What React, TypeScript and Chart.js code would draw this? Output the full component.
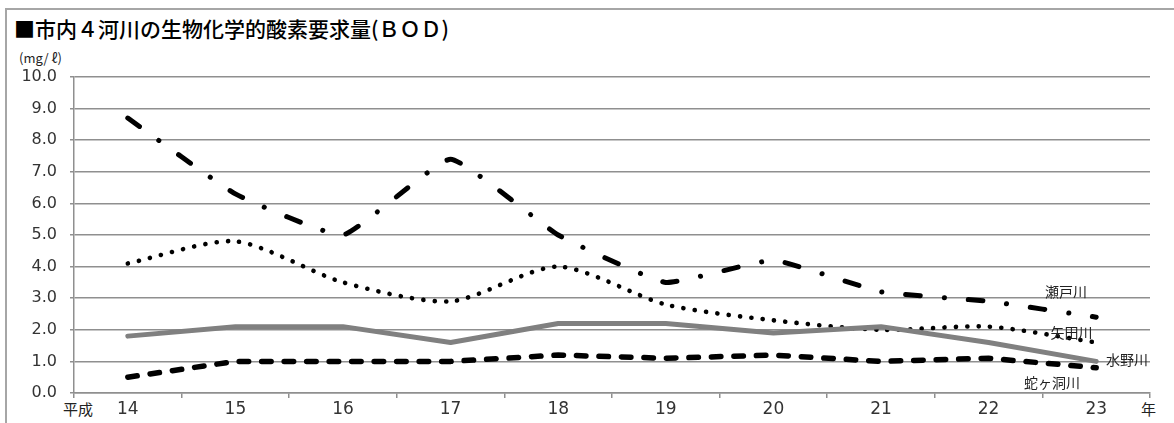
import React, { useEffect, useRef } from "react";
import { Chart, registerables } from "chart.js";

Chart.register(...registerables);

const years = ["14", "15", "16", "17", "18", "19", "20", "21", "22", "23"];
const seto = [8.7, 6.3, 5.0, 7.4, 5.0, 3.5, 4.2, 3.2, 2.9, 2.4];
const yada = [4.1, 4.8, 3.5, 2.9, 4.0, 2.8, 2.3, 2.0, 2.1, 1.6];
const mizuno = [1.8, 2.1, 2.1, 1.6, 2.2, 2.2, 1.9, 2.1, 1.6, 1.0];
const jagabora = [0.5, 1.0, 1.0, 1.0, 1.2, 1.1, 1.2, 1.0, 1.1, 0.8];
const riverNames = ["瀬戸川", "矢田川", "水野川", "蛇ヶ洞川"];
// label anchors: [category index position, value]
const labelIndex = [8.72, 8.77, 9.09, 8.59];
const labelValue = [3.2, 1.9, 1.05, 0.34];
const labelAlign = ["center", "center", "left", "center"];

const TITLE = "■市内４河川の生物化学的酸素要求量(ＢＯＤ)";
const UNIT = "(mg/ ℓ)";
const ERA = "平成";
const YEAR = "年";

const JP = '"Noto Sans CJK JP", "Noto Sans", sans-serif';
const NUM = '"DejaVu Sans", "Noto Sans CJK JP", sans-serif';
const GRID = "#8f8f8f";

const riverLabels = {
  id: "riverLabels",
  afterDatasetsDraw(chart: any) {
    const { ctx, scales } = chart;
    ctx.save();
    ctx.font = `14px ${JP}`;
    ctx.fillStyle = "#222";
    ctx.textBaseline = "middle";
    riverNames.forEach((name, i) => {
      const x0 = scales.x.getPixelForValue(0);
      const x1 = scales.x.getPixelForValue(1);
      const x = x0 + (x1 - x0) * labelIndex[i];
      const y = scales.y.getPixelForValue(labelValue[i]);
      ctx.textAlign = labelAlign[i] as CanvasTextAlign;
      ctx.fillText(name, x, y);
    });
    ctx.restore();
  },
};

export default function App() {
  const ref = useRef<HTMLCanvasElement>(null);

  useEffect(() => {
    if (!ref.current) return;
    const chart = new Chart(ref.current, {
      type: "line",
      data: {
        labels: years,
        datasets: [
          {
            label: riverNames[3],
            data: jagabora,
            borderColor: "#000",
            borderWidth: 5.5,
            borderDash: [9.5, 13],
            borderCapStyle: "round",
            pointRadius: 0,
            tension: 0,
            fill: false,
          },
          {
            label: riverNames[2],
            data: mizuno,
            borderColor: "#808080",
            borderWidth: 5,
            borderCapStyle: "round",
            borderJoinStyle: "round",
            pointRadius: 0,
            tension: 0,
            fill: false,
          },
          {
            label: riverNames[1],
            data: yada,
            borderColor: "#000",
            borderWidth: 4.6,
            borderDash: [0.1, 11.3],
            borderCapStyle: "round",
            pointRadius: 0,
            tension: 0.25,
            fill: false,
          },
          {
            label: riverNames[0],
            data: seto,
            borderColor: "#000",
            borderWidth: 5,
            borderDash: [14.5, 24, 0.1, 24],
            borderCapStyle: "round",
            pointRadius: 0,
            tension: 0.12,
            fill: false,
          },
        ],
      },
      options: {
        animation: false,
        responsive: false,
        maintainAspectRatio: false,
        layout: { padding: { top: 77, right: 24, left: 0, bottom: 0 } },
        plugins: {
          legend: { display: false },
          tooltip: { enabled: false },
        },
        scales: {
          x: {
            type: "category",
            offset: true,
            grid: {
              offset: true,
              drawOnChartArea: false,
              drawTicks: true,
              tickLength: 5,
              color: GRID,
              lineWidth: 1.5,
            },
            border: { display: true, color: GRID, width: 1.5 },
            ticks: {
              color: "#333",
              font: { family: NUM, size: 17 },
              padding: 1,
              maxRotation: 0,
              autoSkip: false,
            },
            afterFit(scale: any) {
              scale.height = 30;
            },
          },
          y: {
            min: 0,
            max: 10,
            grid: {
              color: GRID,
              lineWidth: 1.5,
              tickLength: 4,
              drawTicks: true,
            },
            border: { display: true, color: GRID, width: 1.5 },
            ticks: {
              stepSize: 1,
              color: "#333",
              font: { family: NUM, size: 16 },
              padding: 13,
              callback: (v: any) => Number(v).toFixed(1),
            },
            afterFit(scale: any) {
              scale.width = 74;
            },
          },
        },
      },
      plugins: [riverLabels],
    });
    return () => chart.destroy();
  }, []);

  return (
    <div
      style={{
        position: "absolute",
        left: 0,
        top: 0,
        width: 1174,
        height: 423,
        background: "#fff",
        overflow: "hidden",
      }}
    >
      <div
        style={{
          position: "absolute",
          left: 5,
          top: 8,
          width: 1174,
          height: 423,
          borderTop: "2px solid #a6a6a6",
          borderLeft: "2px solid #a6a6a6",
        }}
      />
      <div
        style={{
          position: "absolute",
          left: 14,
          top: 16,
          font: `500 21px ${JP}`,
          lineHeight: "24px",
          color: "#000",
          whiteSpace: "nowrap",
        }}
      >
        {TITLE}
      </div>
      <div
        style={{
          position: "absolute",
          left: 19,
          top: 50,
          font: `13px ${JP}`,
          lineHeight: "16px",
          color: "#222",
          whiteSpace: "nowrap",
        }}
      >
        {UNIT}
      </div>
      <div
        style={{
          position: "absolute",
          left: 63,
          top: 400,
          font: `15px ${JP}`,
          lineHeight: "18px",
          color: "#222",
        }}
      >
        {ERA}
      </div>
      <div
        style={{
          position: "absolute",
          left: 1141,
          top: 400,
          font: `15px ${JP}`,
          lineHeight: "18px",
          color: "#222",
        }}
      >
        {YEAR}
      </div>
      <canvas
        ref={ref}
        width={1174}
        height={423}
        style={{ position: "absolute", left: 0, top: 0, width: 1174, height: 423 }}
      />
    </div>
  );
}
